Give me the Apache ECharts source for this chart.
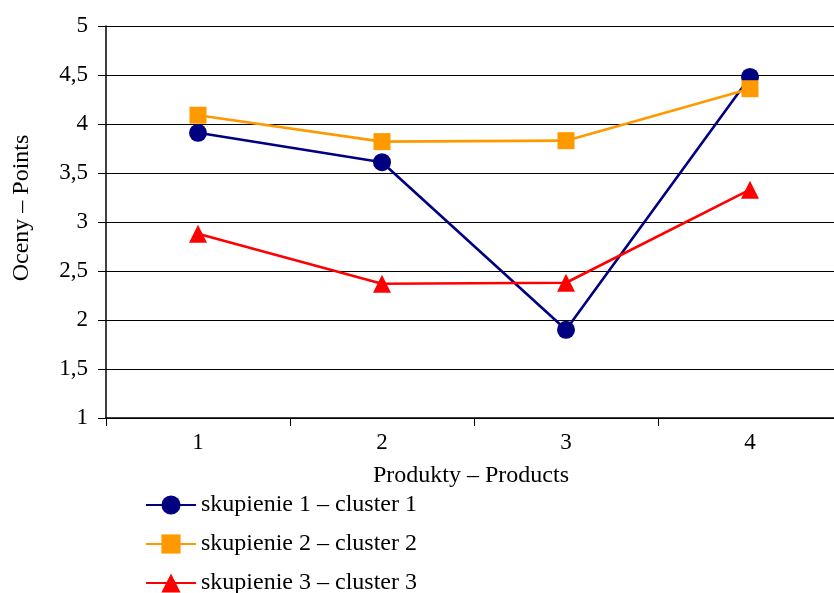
<!DOCTYPE html>
<html><head><meta charset="utf-8">
<script src="https://cdn.jsdelivr.net/npm/echarts@6/dist/echarts.min.js"></script>
<style>html,body{margin:0;padding:0;background:#fff}#c{width:834px;height:593px}</style>
</head><body><div id="c"></div>
<script>
const categories = ['1','2','3','4'];
const cluster1 = [3.91, 3.61, 1.90, 4.48];
const cluster2 = [4.09, 3.82, 3.83, 4.36];
const cluster3 = [2.88, 2.37, 2.38, 3.33];
const seriesNames = ['skupienie 1 – cluster 1','skupienie 2 – cluster 2','skupienie 3 – cluster 3'];
const xTitle = 'Produkty – Products';
const yTitle = 'Oceny – Points';

const font = 'Liberation Serif';
const chart = echarts.init(document.getElementById('c'));
function mk(name, data, color, symbol, size){
  return {name, type:'line', data, symbol, symbolSize:size, showSymbol:true,
    lineStyle:{color, width:2.6}, itemStyle:{color}, animation:false};
}
chart.setOption({
  animation:false,
  textStyle:{fontFamily:font},
  grid:{left:106, top:26, width:736, height:392, containLabel:false, outerBoundsMode:'none'},
  xAxis:{type:'category', data:categories, boundaryGap:true,
    name:xTitle, nameLocation:'middle', nameGap:46,
    nameTextStyle:{fontFamily:font, fontSize:24, color:'#000', padding:[0,6,0,0]},
    axisLine:{lineStyle:{color:'#000', width:1.5}},
    axisTick:{show:true, length:8, lineStyle:{color:'#000'}},
    axisLabel:{fontFamily:font, fontSize:23, color:'#000', margin:13}},
  yAxis:{type:'value', min:1, max:5, interval:0.5,
    name:yTitle, nameLocation:'middle', nameGap:72,
    nameTextStyle:{fontFamily:font, fontSize:24, color:'#000', padding:[0,0,0,28]},
    axisLine:{show:true, lineStyle:{color:'#000', width:1.5}},
    axisTick:{show:true, length:8, lineStyle:{color:'#000'}},
    splitLine:{lineStyle:{color:'#000', width:1.2}},
    axisLabel:{fontFamily:font, fontSize:23, color:'#000', margin:18,
      formatter:v=>String(v).replace('.',',')}},
  legend:{orient:'vertical', left:145, top:493, height:110, padding:0, itemGap:15,
    itemWidth:50, itemHeight:24,
    textStyle:{fontFamily:font, fontSize:24, color:'#000'},
    data:seriesNames},
  series:[
    mk(seriesNames[0], cluster1, '#000080', 'circle', 18),
    mk(seriesNames[1], cluster2, '#FF9900', 'rect', 17),
    mk(seriesNames[2], cluster3, '#FF0000', 'triangle', 18)
  ]
});
</script></body></html>
